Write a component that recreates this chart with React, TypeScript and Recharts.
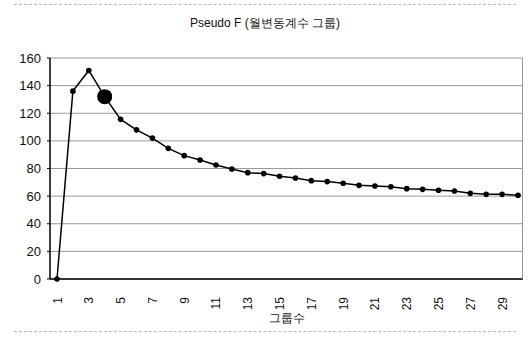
import React from "react";
import { LineChart, Line, XAxis, YAxis, CartesianGrid } from "recharts";

const groupCounts: number[] = Array.from({ length: 30 }, (_, i) => i + 1);
const pseudoF: number[] = [
  0, 136, 151, 132, 115.6, 108, 102, 94.6, 89.3, 86.2,
  82.5, 79.6, 77, 76.3, 74.4, 73.1, 71.2, 70.5, 69.3, 67.8,
  67.3, 66.8, 65.4, 64.9, 64.2, 63.7, 62, 61.3, 61.3, 60.6,
];
const yTicks: number[] = [0, 20, 40, 60, 80, 100, 120, 140, 160];
const highlightIndex = 3;
const title = "Pseudo F (월변동계수 그룹)";
const xLabel = "그룹수";

const data = groupCounts.map((g, i) => ({ g: String(g), v: pseudoF[i] }));

const FONT = "'Liberation Sans', Arial, sans-serif";

const Dot = (props: any) => {
  const { cx, cy, index } = props;
  if (cx == null || cy == null) return null;
  if (index === highlightIndex) {
    return <circle key={index} cx={cx} cy={cy} r={7.5} fill="#000" />;
  }
  return <circle key={index} cx={cx} cy={cy} r={2.8} fill="#000" />;
};

export default function App() {
  return (
    <div style={{ position: "absolute", left: 0, top: 0, width: 530, height: 339, background: "#fff", fontFamily: FONT }}>
      <div style={{ position: "absolute", left: 14, right: 14, top: 4, borderTop: "1px dashed #bbb" }} />
      <div style={{ position: "absolute", left: 14, right: 14, top: 331, borderTop: "1px dashed #bbb" }} />
      <div style={{ position: "absolute", left: 0, width: 530, top: 15, textAlign: "center", fontSize: 12, color: "#111" }}>
        {title}
      </div>
      <LineChart
        width={530}
        height={339}
        data={data}
        margin={{ top: 58, right: 7, bottom: 0, left: 0 }}
      >
        <CartesianGrid vertical={false} stroke="#999" strokeWidth={1} />
        <XAxis
          dataKey="g"
          interval={1}
          angle={-90}
          textAnchor="end"
          height={60}
          padding={{ left: 7, right: 5 }}
          tickLine={false}
          axisLine={{ stroke: "#000", strokeWidth: 1.5 }}
          tick={{ fontSize: 12, fill: "#111", fontFamily: FONT, dx: -4 }}
          tickMargin={12}
          label={{ value: xLabel, position: "insideBottom", offset: 17, fontSize: 12, fill: "#111", fontFamily: FONT }}
        />
        <YAxis
          domain={[0, 160]}
          ticks={yTicks}
          width={50}
          tickLine={{ stroke: "#000" }}
          tickSize={3}
          axisLine={{ stroke: "#000", strokeWidth: 1.5 }}
          tick={{ fontSize: 13, fill: "#111", fontFamily: FONT }}
          tickMargin={6}
        />
        <Line
          type="linear"
          dataKey="v"
          stroke="#000"
          strokeWidth={1.5}
          dot={Dot}
          isAnimationActive={false}
        />
      </LineChart>
      <div style={{ position: "absolute", left: 522, top: 58, height: 221, borderLeft: "1px solid #999" }} />
    </div>
  );
}
